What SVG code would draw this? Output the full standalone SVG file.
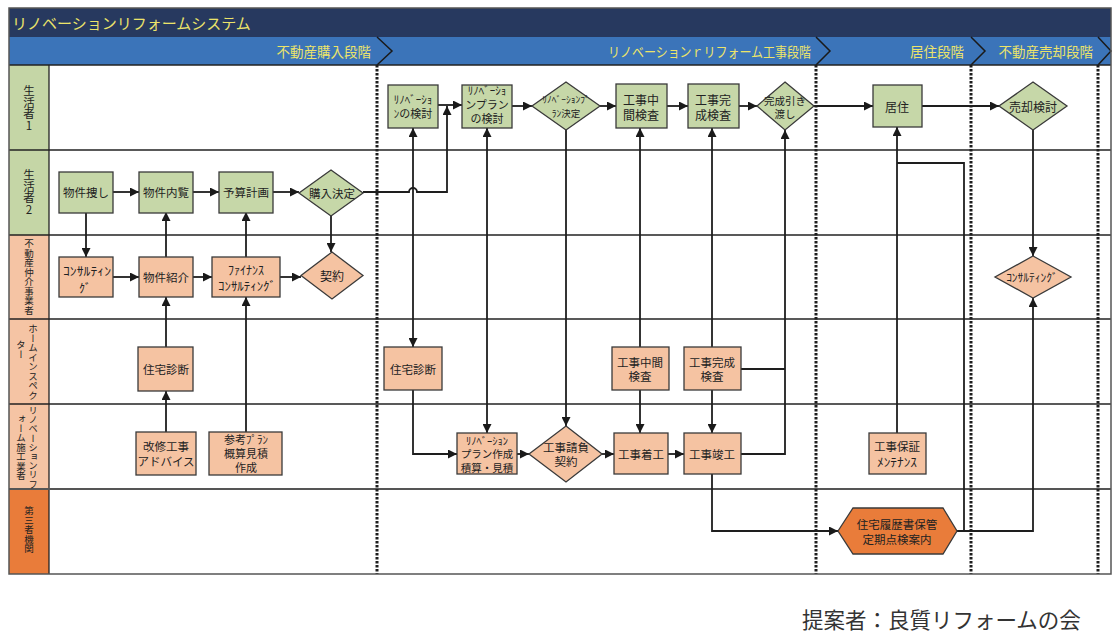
<svg xmlns="http://www.w3.org/2000/svg" width="1113" height="636" viewBox="0 0 1113 636">
<defs>
<style>
text{font-family:"Noto Sans CJK JP","Noto Sans",sans-serif;fill:#222}
.g{fill:#c6d7a8;stroke:#3a3a3a;stroke-width:1.3}
.p{fill:#f5c3a2;stroke:#3a3a3a;stroke-width:1.3}
.o{fill:#e97c3a;stroke:#3a3a3a;stroke-width:1.3}
.t{font-size:11.5px;text-anchor:middle;dominant-baseline:central}
.s{font-size:12px;text-anchor:middle;dominant-baseline:central}
.c{fill:none;stroke:#1e1e1e;stroke-width:1.8}
.a{marker-end:url(#ah)}
.b{marker-start:url(#ah);marker-end:url(#ah)}
.dash{stroke:#1e1e1e;stroke-width:3;stroke-dasharray:2.5 1.5}
.ph{fill:#ece46a;font-size:13.5px;text-anchor:end;dominant-baseline:central}
.ln{writing-mode:vertical-rl;text-orientation:upright;dominant-baseline:central}
.lg{fill:#c5d6a6}
.lp{fill:#f5c4a4}
.lo{fill:#e97c3a}
</style>
<marker id="ah" viewBox="0 0 10 10" refX="10" refY="5" markerWidth="9" markerHeight="9" markerUnits="userSpaceOnUse" orient="auto-start-reverse"><path d="M0,0 L10,5 L0,10 z" fill="#1a1a1a"/></marker>
</defs>

<rect x="0" y="0" width="1113" height="636" fill="#fff"/>

<g id="header">
<rect x="9" y="8" width="1102" height="29" fill="#27395f"/>
<rect x="9" y="37" width="1102" height="28" fill="#3b74b9"/>
<text x="12" y="22" style="fill:#ece46a;font-size:15px;dominant-baseline:central">リノベーションリフォームシステム</text>
<text class="ph" x="371" y="51">不動産購入段階</text>
<text class="ph" x="811" y="51" textLength="203" lengthAdjust="spacingAndGlyphs">リノベーションｒリフォーム工事段階</text>
<text class="ph" x="964" y="51">居住段階</text>
<text class="ph" x="1093" y="51">不動産売却段階</text>
<g fill="none" stroke="#1a1a1a" stroke-width="1.5">
<path d="M377,37 L392,51 L377,65"/>
<path d="M816,37 L830,51 L816,65"/>
<path d="M971,37 L985,51 L971,65"/>
<path d="M1098,37 L1111,51 L1098,65"/>
</g>
</g>

<g id="lanes">
<rect x="9" y="65" width="40" height="85" class="lg"/>
<rect x="9" y="150" width="40" height="85" class="lg"/>
<rect x="9" y="235" width="40" height="84" class="lp"/>
<rect x="9" y="319" width="40" height="85" class="lp"/>
<rect x="9" y="404" width="40" height="85" class="lp"/>
<rect x="9" y="489" width="40" height="85" class="lo"/>
<g stroke="#222" stroke-width="1.3">
<line x1="9" y1="65" x2="1111" y2="65"/>
<line x1="9" y1="150" x2="1111" y2="150"/>
<line x1="9" y1="235" x2="1111" y2="235"/>
<line x1="9" y1="319" x2="1111" y2="319"/>
<line x1="9" y1="404" x2="1111" y2="404"/>
<line x1="49" y1="65" x2="49" y2="574"/>
</g>
<line x1="9" y1="489" x2="1111" y2="489" stroke="#555" stroke-width="2.2"/>
<text class="ln" x="29" y="85" style="font-size:11.5px">生活者1</text>
<text class="ln" x="29" y="169" style="font-size:11.5px">生活者2</text>
<text class="ln" x="29" y="239" style="font-size:9.5px">不動産仲介事業者</text>
<text class="ln" x="33" y="324" style="font-size:9.5px">ホームインスペク</text>
<text class="ln" x="21" y="340" style="font-size:9.5px">ター</text>
<text class="ln" x="33" y="406" style="font-size:9.2px">リノベーションリフ</text>
<text class="ln" x="21" y="414" style="font-size:9.5px">ォーム施工業者</text>
<text class="ln" x="29" y="506" style="font-size:9.5px">第三者機関</text>
</g>

<g id="phase-dividers">
<line x1="377" y1="65" x2="377" y2="574" class="dash"/>
<line x1="816" y1="65" x2="816" y2="574" class="dash"/>
<line x1="971" y1="65" x2="971" y2="574" class="dash"/>
<line x1="1098" y1="65" x2="1098" y2="574" class="dash"/>
</g>

<rect x="9" y="8" width="1102" height="566" fill="none" stroke="#555" stroke-width="1.5"/>

<g id="connectors">
<path class="c a" d="M113,192 H139"/>
<path class="c a" d="M193,192 H219"/>
<path class="c a" d="M273,192 H299"/>
<path class="c a" d="M363,192 H409 A4,4 0 0 1 417,192 H447 V106"/>
<path class="c a" d="M86,213 V257"/>
<path class="c a" d="M166,347 V297"/>
<path class="c a" d="M166,257 V212"/>
<path class="c a" d="M166,432 V391"/>
<path class="c a" d="M246,432 V297"/>
<path class="c a" d="M246,257 V212"/>
<path class="c a" d="M113,277 H139"/>
<path class="c a" d="M193,277 H212"/>
<path class="c a" d="M280,277 H301"/>
<path class="c a" d="M331,216 V252"/>

<path class="c a" d="M438,105 H462"/>
<path class="c b" d="M413,128 V347"/>
<path class="c b" d="M487,128 V433"/>
<path class="c a" d="M512,106 H532"/>
<path class="c a" d="M600,106 H616"/>
<path class="c a" d="M667,106 H688"/>
<path class="c a" d="M739,106 H757"/>
<path class="c a" d="M566,130 V426"/>
<path class="c a" d="M640,347 V128"/>
<path class="c a" d="M640,390 V433"/>
<path class="c a" d="M712,347 V128"/>
<path class="c a" d="M712,390 V433"/>
<path class="c a" d="M413,390 V454 H457"/>
<path class="c a" d="M517,454 H529"/>
<path class="c a" d="M602,454 H614"/>
<path class="c a" d="M668,454 H684"/>
<path class="c a" d="M741,454 H785 V130"/>
<path class="c" d="M741,369 H785"/>
<path class="c a" d="M712,474 V531 H838"/>

<path class="c a" d="M814,106 H873"/>
<path class="c a" d="M922,106 H999"/>
<path class="c a" d="M1033,130 V256"/>
<path class="c a" d="M957,531 H1033 V298"/>
<path class="c" d="M957,531 H964 V163 H897"/>
<path class="c a" d="M897,433 V127"/>
</g>

<g id="n-bukken-sagashi"><rect class="g" x="59" y="172" width="54" height="41"/><text class="t" x="86" y="192">物件捜し</text></g>
<g id="n-bukken-nairan"><rect class="g" x="139" y="172" width="54" height="41"/><text class="t" x="166" y="192">物件内覧</text></g>
<g id="n-yosan"><rect class="g" x="219" y="172" width="54" height="41"/><text class="t" x="246" y="192">予算計画</text></g>
<g id="n-konyu-kettei"><path class="g" d="M331,170 L363,193 L331,216 L299,193 z"/><text class="t" x="332" y="193">購入決定</text></g>

<g id="n-consulting1"><rect class="p" x="59" y="257" width="54" height="40"/><text class="s" x="87" y="270" textLength="48" lengthAdjust="spacingAndGlyphs">ｺﾝｻﾙﾃｨﾝ</text><text class="s" x="85" y="287">ｸﾞ</text></g>
<g id="n-bukken-shokai"><rect class="p" x="139" y="257" width="54" height="40"/><text class="t" x="166" y="277">物件紹介</text></g>
<g id="n-finance"><rect class="p" x="212" y="257" width="68" height="40"/><text class="s" x="246" y="269">ﾌｧｲﾅﾝｽ</text><text class="s" x="247" y="285" textLength="58" lengthAdjust="spacingAndGlyphs">ｺﾝｻﾙﾃｨﾝｸﾞ</text></g>
<g id="n-keiyaku"><path class="p" d="M332,252 L363,275.5 L332,299 L301,275.5 z"/><text class="t" x="332" y="275" style="font-size:12px">契約</text></g>

<g id="n-jutaku-shindan1"><rect class="p" x="138" y="347" width="55" height="44"/><text class="t" x="166" y="369">住宅診断</text></g>
<g id="n-kaishu"><rect class="p" x="136" y="432" width="60" height="43"/><text class="t" x="166" y="446">改修工事</text><text class="t" x="166" y="461">アドバイス</text></g>
<g id="n-sanko"><rect class="p" x="209" y="432" width="73" height="43"/><text class="t" x="246" y="439" style="font-size:11px">参考ﾌﾟﾗﾝ</text><text class="t" x="246" y="453" style="font-size:11px">概算見積</text><text class="t" x="246" y="467" style="font-size:11px">作成</text></g>

<g id="n-reno-kento"><rect class="g" x="388" y="85" width="50" height="43"/><text class="s" x="413" y="99" style="font-size:11px">ﾘﾉﾍﾞｰｼｮ</text><text class="t" x="413" y="113" style="font-size:11px">ﾝの検討</text></g>
<g id="n-plan-kento"><rect class="g" x="462" y="85" width="50" height="43"/><text class="s" x="487" y="90" style="font-size:11px">ﾘﾉﾍﾞｰｼｮ</text><text class="t" x="487" y="104" style="font-size:11px">ンプラン</text><text class="t" x="487" y="118" style="font-size:11px">の検討</text></g>
<g id="n-plan-kettei"><path class="g" d="M566,82 L600,106 L566,130 L532,106 z"/><text class="s" x="566" y="99" style="font-size:9.5px">ﾘﾉﾍﾞｰｼｮﾝﾌﾟ</text><text class="s" x="566" y="113" style="font-size:9.5px">ﾗﾝ決定</text></g>
<g id="n-chukan1"><rect class="g" x="616" y="84" width="51" height="44"/><text class="t" x="641" y="99" style="font-size:12px">工事中</text><text class="t" x="641" y="114" style="font-size:12px">間検査</text></g>
<g id="n-kansei1"><rect class="g" x="688" y="84" width="51" height="44"/><text class="t" x="713" y="99" style="font-size:12px">工事完</text><text class="t" x="713" y="114" style="font-size:12px">成検査</text></g>
<g id="n-hikiwatashi"><path class="g" d="M785,82 L814,106 L785,130 L757,106 z"/><text class="t" x="785" y="100" style="font-size:10.5px">完成引き</text><text class="t" x="785" y="113" style="font-size:10.5px">渡し</text></g>

<g id="n-jutaku-shindan2"><rect class="p" x="384" y="347" width="58" height="43"/><text class="t" x="413" y="369">住宅診断</text></g>
<g id="n-chukan2"><rect class="p" x="612" y="347" width="57" height="43"/><text class="t" x="640" y="362">工事中間</text><text class="t" x="640" y="376">検査</text></g>
<g id="n-kansei2"><rect class="p" x="684" y="347" width="57" height="43"/><text class="t" x="712" y="362">工事完成</text><text class="t" x="712" y="376">検査</text></g>

<g id="n-plan-sakusei"><rect class="p" x="457" y="433" width="60" height="41"/><text class="s" x="487" y="440" style="font-size:10.5px">ﾘﾉﾍﾞｰｼｮﾝ</text><text class="t" x="487" y="453.5" style="font-size:10.5px">プラン作成</text><text class="t" x="487" y="467" style="font-size:10.5px">積算・見積</text></g>
<g id="n-ukeoi"><path class="p" d="M566,426 L602,454 L566,482 L529,454 z"/><text class="t" x="566" y="447">工事請負</text><text class="t" x="566" y="461">契約</text></g>
<g id="n-chakko"><rect class="p" x="614" y="433" width="54" height="41"/><text class="t" x="641" y="454">工事着工</text></g>
<g id="n-shunko"><rect class="p" x="684" y="433" width="57" height="41"/><text class="t" x="712" y="454">工事竣工</text></g>

<g id="n-kyoju"><rect class="g" x="873" y="85" width="49" height="42"/><text class="t" x="897" y="106" style="font-size:12px">居住</text></g>
<g id="n-hosho"><rect class="p" x="869" y="433" width="57" height="41"/><text class="t" x="897" y="446">工事保証</text><text class="s" x="897" y="461" textLength="40" lengthAdjust="spacingAndGlyphs">ﾒﾝﾃﾅﾝｽ</text></g>
<g id="n-rireki"><path class="o" d="M838,531 L853,508 L943,508 L957,531 L943,554 L853,554 z"/><text class="t" x="897" y="524">住宅履歴書保管</text><text class="t" x="897" y="539">定期点検案内</text></g>

<g id="n-baikyaku"><path class="g" d="M1033,82 L1067,106 L1033,130 L999,106 z"/><text class="t" x="1033" y="106" style="font-size:12px">売却検討</text></g>
<g id="n-consulting2"><path class="p" d="M1033,256 L1071,277 L1033,298 L995,277 z"/><text class="s" x="1032" y="277" style="font-size:11.5px">ｺﾝｻﾙﾃｨﾝｸﾞ</text></g>

<text x="802" y="618" style="font-size:21.5px;fill:#333;dominant-baseline:central">提案者：良質リフォームの会</text>
</svg>
